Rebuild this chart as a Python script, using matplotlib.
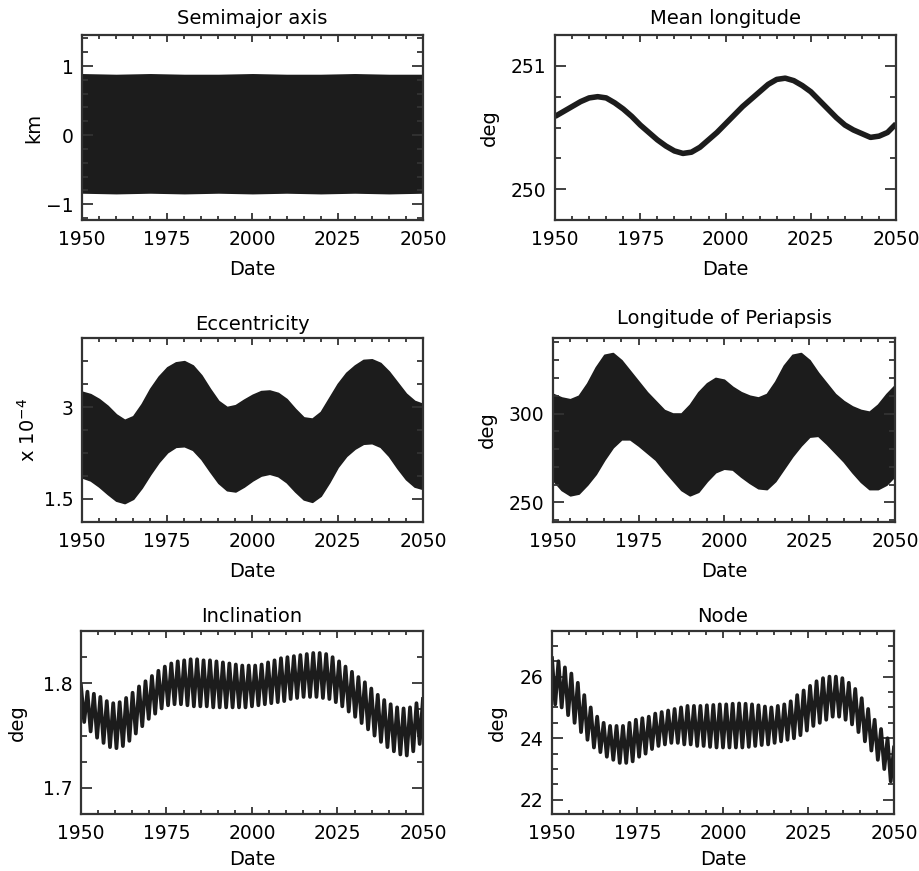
import numpy as np
import matplotlib.pyplot as plt
from matplotlib.ticker import MultipleLocator, StrMethodFormatter

# ---- data ----
# semimajor axis: upper / lower edge of the dense band (km)
sma_dates = [1950, 1960, 1970, 1980, 1990, 2000, 2010, 2020, 2030, 2040, 2050]
sma_upper = [0.88, 0.87, 0.88, 0.87, 0.87, 0.88, 0.87, 0.87, 0.88, 0.87, 0.87]
sma_lower = [-0.83, -0.84, -0.83, -0.84, -0.83, -0.84, -0.83, -0.84, -0.83, -0.84, -0.83]

# dates used by the mean longitude / eccentricity / periapsis readings
env_dates = [1950, 1952.5, 1955, 1957.5, 1960, 1962.5, 1965, 1967.5, 1970, 1972.5,
             1975, 1977.5, 1980, 1982.5, 1985, 1987.5, 1990, 1992.5, 1995, 1997.5,
             2000, 2002.5, 2005, 2007.5, 2010, 2012.5, 2015, 2017.5, 2020, 2022.5,
             2025, 2027.5, 2030, 2032.5, 2035, 2037.5, 2040, 2042.5, 2045, 2047.5, 2050]

# mean longitude (deg)
ml_vals = [250.59, 250.63, 250.67, 250.71, 250.74, 250.75, 250.74, 250.70, 250.65, 250.59,
           250.52, 250.46, 250.40, 250.35, 250.31, 250.29, 250.30, 250.34, 250.40, 250.46,
           250.53, 250.60, 250.67, 250.73, 250.79, 250.85, 250.89, 250.90, 250.88, 250.84,
           250.79, 250.72, 250.65, 250.58, 250.52, 250.48, 250.45, 250.42, 250.43, 250.46,
           250.53]

# eccentricity (x 1e-4): band edges
ecc_upper = [3.25, 3.21, 3.13, 3.02, 2.88, 2.79, 2.85, 3.05, 3.30, 3.50,
             3.65, 3.73, 3.75, 3.68, 3.52, 3.30, 3.10, 3.00, 3.03, 3.12,
             3.20, 3.26, 3.27, 3.23, 3.13, 2.97, 2.83, 2.81, 2.92, 3.15,
             3.38, 3.56, 3.68, 3.77, 3.78, 3.72, 3.58, 3.40, 3.22, 3.10, 3.05]
ecc_lower = [1.85, 1.80, 1.70, 1.58, 1.47, 1.43, 1.50, 1.68, 1.90, 2.10,
             2.26, 2.35, 2.36, 2.30, 2.15, 1.95, 1.76, 1.64, 1.62, 1.70,
             1.80, 1.88, 1.91, 1.87, 1.77, 1.62, 1.49, 1.45, 1.55, 1.77,
             2.02, 2.20, 2.32, 2.40, 2.41, 2.35, 2.20, 2.00, 1.82, 1.70, 1.66]

# longitude of periapsis (deg): band edges
lp_upper = [311, 309, 308, 310, 317, 326, 333, 334, 330, 324,
            318, 312, 307, 302, 300, 300, 305, 312, 317, 320,
            319, 315, 312, 310, 309, 311, 318, 327, 333, 334,
            330, 323, 317, 311, 307, 304, 302, 301, 305, 311, 316]
lp_lower = [262.5, 257, 254, 255, 260, 266, 274, 281, 285.5, 285.5,
            282, 278, 274, 268, 262.5, 257, 254, 256, 262, 267,
            269, 268.5, 264.5, 261, 258, 257.5, 262, 269, 276, 282,
            287, 287.5, 283, 278, 273, 267, 261.6, 257.5, 257.5, 260, 265]

# inclination (deg): successive maxima and minima of the short-period wobble
inc_peaks = [1.798, 1.792, 1.790, 1.787, 1.783, 1.781, 1.782, 1.786, 1.791, 1.797,
             1.802, 1.807, 1.812, 1.816, 1.819, 1.821, 1.822, 1.823, 1.823, 1.822,
             1.822, 1.821, 1.820, 1.819, 1.818, 1.817, 1.817, 1.817, 1.818, 1.820,
             1.822, 1.824, 1.825, 1.826, 1.827, 1.828, 1.829, 1.829, 1.828, 1.825,
             1.821, 1.816, 1.811, 1.806, 1.801, 1.795, 1.789, 1.784, 1.780, 1.777,
             1.776, 1.777, 1.781, 1.785]
inc_troughs = [1.763, 1.754, 1.748, 1.743, 1.739, 1.738, 1.740, 1.745, 1.752, 1.759,
               1.766, 1.771, 1.776, 1.779, 1.780, 1.780, 1.779, 1.778, 1.778, 1.778,
               1.777, 1.777, 1.777, 1.777, 1.777, 1.777, 1.778, 1.779, 1.780, 1.781,
               1.782, 1.783, 1.785, 1.786, 1.787, 1.787, 1.787, 1.786, 1.785, 1.782,
               1.778, 1.773, 1.768, 1.762, 1.756, 1.750, 1.744, 1.739, 1.735, 1.732,
               1.731, 1.735, 1.742]

# node (deg): successive maxima and minima
node_peaks = [26.6, 26.5, 26.3, 26.1, 25.8, 25.4, 25.0, 24.7, 24.5, 24.4,
              24.4, 24.4, 24.5, 24.6, 24.65, 24.7, 24.8, 24.85, 24.9, 24.95,
              25.0, 25.05, 25.05, 25.05, 25.07, 25.08, 25.1, 25.1, 25.12, 25.13,
              25.12, 25.1, 25.07, 25.03, 25.0, 25.05, 25.1, 25.2, 25.4, 25.55,
              25.7, 25.85, 25.95, 26.0, 26.0, 25.95, 25.8, 25.6, 25.3, 24.95,
              24.6, 24.3, 24.0, 23.7]
node_troughs = [25.1, 25.0, 24.75, 24.5, 24.2, 23.95, 23.7, 23.55, 23.4, 23.3,
                23.2, 23.2, 23.25, 23.4, 23.5, 23.65, 23.75, 23.8, 23.85, 23.85,
                23.8, 23.8, 23.75, 23.75, 23.72, 23.7, 23.7, 23.7, 23.7, 23.7,
                23.72, 23.75, 23.78, 23.8, 23.85, 23.9, 23.95, 24.0, 24.1, 24.25,
                24.4, 24.5, 24.6, 24.7, 24.7, 24.6, 24.45, 24.2, 23.9, 23.6,
                23.3, 23.0, 22.6]

INK = '#1c1c1c'
FRAME = '#333333'
FS = 13.5


def zigzag(peaks, troughs):
    tp = np.linspace(1950, 2050, len(peaks))
    tt = 0.5 * (tp[:-1] + tp[1:])
    x = np.empty(len(tp) + len(tt))
    y = np.empty_like(x)
    x[0::2], x[1::2] = tp, tt
    y[0::2], y[1::2] = peaks, troughs
    return x, y


def style(ax, title, ylabel, ylim, ymajor, yminor, lab_x, title_pad=7, xlab_pad=8):
    ax.set_xlim(1950, 2050)
    ax.set_ylim(*ylim)
    ax.xaxis.set_major_locator(MultipleLocator(25))
    ax.xaxis.set_minor_locator(MultipleLocator(5))
    ax.yaxis.set_major_locator(MultipleLocator(ymajor))
    ax.yaxis.set_minor_locator(MultipleLocator(yminor))
    ax.tick_params(which='both', direction='in', top=True, right=True,
                   colors=FRAME, labelcolor='black', labelsize=FS, width=1.3)
    ax.tick_params(axis='x', which='major', length=5, pad=7)
    ax.tick_params(axis='x', which='minor', length=3)
    ax.tick_params(axis='y', which='major', length=8, pad=6)
    ax.tick_params(axis='y', which='minor', length=4)
    for s in ax.spines.values():
        s.set_linewidth(1.6)
        s.set_color(FRAME)
    ax.set_title(title, fontsize=14, pad=title_pad)
    ax.set_xlabel('Date', fontsize=14, labelpad=xlab_pad)
    ax.set_ylabel(ylabel, fontsize=14)
    ax.yaxis.set_label_coords(lab_x, 0.5)


fig = plt.figure(figsize=(9.2, 8.71), dpi=100)

ax1 = fig.add_axes([0.0891, 0.7474, 0.3707, 0.2124])
ax1.fill_between(sma_dates, sma_lower, sma_upper, color=INK, lw=1.2, edgecolor=INK)
style(ax1, 'Semimajor axis', 'km', (-1.23, 1.45), 1, 0.2, -0.115, title_pad=8)
ax1.set_yticks([-1, 0, 1])
ax1.set_yticklabels(['\u22121', '0', '1'])

ax2 = fig.add_axes([0.6033, 0.7474, 0.3707, 0.2124])
ax2.plot(env_dates, ml_vals, color=INK, lw=4, solid_capstyle='butt')
style(ax2, 'Mean longitude', 'deg', (249.75, 251.25), 1, 0.25, -0.164, title_pad=8)

ax3 = fig.add_axes([0.0891, 0.4007, 0.3707, 0.2113])
ax3.fill_between(env_dates, ecc_lower, ecc_upper, color=INK, lw=1.2, edgecolor=INK)
style(ax3, 'Eccentricity', 'x 10$^{-4}$', (1.12, 4.13), 1.5, 0.375, -0.128, title_pad=6)
ax3.yaxis.set_major_formatter(StrMethodFormatter('{x:g}'))

ax4 = fig.add_axes([0.6011, 0.4007, 0.3717, 0.2113])
ax4.fill_between(env_dates, lp_lower, lp_upper, color=INK, lw=1.2, edgecolor=INK)
style(ax4, 'Longitude of Periapsis', 'deg', (239, 342.5), 50, 10, -0.163, title_pad=10)

ax5 = fig.add_axes([0.0880, 0.0654, 0.3717, 0.2101])
x, y = zigzag(inc_peaks, inc_troughs)
ax5.plot(x, y, color=INK, lw=2.7)
style(ax5, 'Inclination', 'deg', (1.675, 1.85), 0.1, 0.025, -0.157,
      title_pad=6.5, xlab_pad=5)

ax6 = fig.add_axes([0.6, 0.0654, 0.3717, 0.2101])
x, y = zigzag(node_peaks, node_troughs)
ax6.plot(x, y, color=INK, lw=2.7)
style(ax6, 'Node', 'deg', (21.54, 27.48), 2, 0.5, -0.131,
      title_pad=6.5, xlab_pad=5)

fig.savefig('out.png', dpi=100)
